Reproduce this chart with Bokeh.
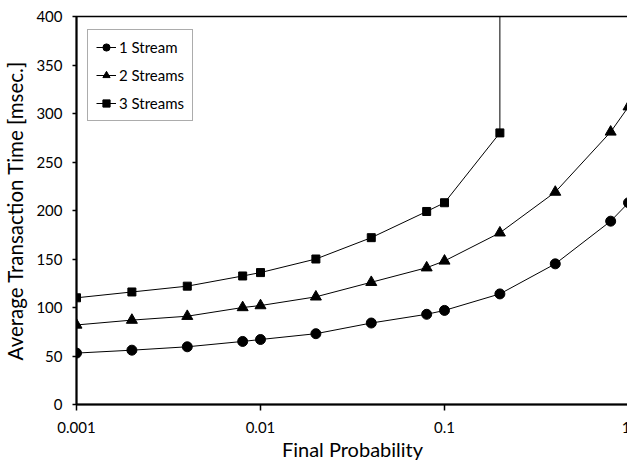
from bokeh.plotting import figure
from bokeh.models import Range1d, FixedTicker, CustomJSTickFormatter, Legend, LegendItem
from bokeh.embed import file_html
from bokeh.resources import INLINE

# Data
prob = [0.001, 0.002, 0.004, 0.008, 0.01, 0.02, 0.04, 0.08, 0.1, 0.2, 0.4, 0.8, 1.0]
stream1 = [53, 56, 59.5, 65, 67, 73, 84, 93, 97, 114, 145, 189, 208]
stream2 = [82, 87, 91, 100, 102, 111, 126, 141, 148, 177, 219, 281, 307]
prob3 = [0.001, 0.002, 0.004, 0.008, 0.01, 0.02, 0.04, 0.08, 0.1, 0.2]
stream3 = [110, 116, 122, 132.5, 136, 150, 172, 199, 208, 280]
# 3 streams diverges beyond 0.2 (line leaves the top of the chart)
prob3_div = [0.2, 0.2]
stream3_div = [280, 2000]

x_ticks = [0.001, 0.01, 0.1, 1]
y_ticks = [0, 50, 100, 150, 200, 250, 300, 350, 400]

FONT = "Lato"

p = figure(x_axis_type="log", output_backend="svg", toolbar_location=None,
           frame_width=552, frame_height=388,
           min_border_left=65, min_border_right=2, min_border_top=16, min_border_bottom=10,
           x_range=Range1d(0.001, 1), y_range=Range1d(0, 400))

p.xgrid.visible = False
p.ygrid.visible = False
p.outline_line_color = "black"
p.outline_line_width = 1.5
p.background_fill_color = "white"
p.border_fill_color = "white"

r1l = p.line(prob, stream1, line_color="black", line_width=1)
r1m = p.scatter(prob, stream1, marker="circle", size=10, fill_color="black", line_color="black")
r2l = p.line(prob, stream2, line_color="black", line_width=1)
r2m = p.scatter(prob, stream2, marker="triangle", size=11, fill_color="black", line_color="black")
r3l = p.line(prob3, stream3, line_color="black", line_width=1)
r3d = p.line(prob3_div, stream3_div, line_color="black", line_width=1)
r3m = p.scatter(prob3, stream3, marker="square", size=8, fill_color="black", line_color="black")

legend = Legend(items=[
    LegendItem(label="1 Stream", renderers=[r1l, r1m]),
    LegendItem(label="2 Streams", renderers=[r2l, r2m]),
    LegendItem(label="3 Streams", renderers=[r3l, r3m]),
], location=(11, 283))
legend.border_line_color = "#5a5a5a"
legend.border_line_width = 1
legend.padding = 8
legend.spacing = 10
legend.glyph_height = 18
legend.label_height = 18
legend.glyph_width = 20
legend.label_standoff = 3
legend.label_text_font = FONT
legend.label_text_font_size = "15px"
legend.label_text_color = "black"
legend.margin = 0
p.add_layout(legend, "center")

xa = p.xaxis[0]
xa.ticker = FixedTicker(ticks=x_ticks, minor_ticks=[])
xa.formatter = CustomJSTickFormatter(code="return tick.toString();")
xa.axis_label = "Final Probability"
xa.axis_label_text_font = FONT
xa.axis_label_text_font_size = "20px"
xa.axis_label_text_font_style = "normal"
xa.axis_label_text_color = "black"
xa.axis_label_standoff = 1
xa.major_label_text_font = FONT
xa.major_label_text_font_size = "15px"
xa.major_label_text_color = "black"
xa.major_label_standoff = 11
xa.axis_line_width = 2
xa.axis_line_color = "black"
xa.major_tick_out = 6
xa.major_tick_in = 0
xa.major_tick_line_width = 1.5
xa.minor_tick_line_color = None

ya = p.yaxis[0]
ya.ticker = FixedTicker(ticks=y_ticks, minor_ticks=[])
ya.axis_label = "Average Transaction Time [msec.]"
ya.axis_label_text_font = FONT
ya.axis_label_text_font_size = "20.5px"
ya.axis_label_text_font_style = "normal"
ya.axis_label_text_color = "black"
ya.axis_label_standoff = 6
ya.major_label_text_font = FONT
ya.major_label_text_font_size = "15px"
ya.major_label_text_color = "black"
ya.major_label_standoff = 10
ya.axis_line_width = 2
ya.axis_line_color = "black"
ya.major_tick_out = 4
ya.major_tick_in = 0
ya.major_tick_line_width = 1.5
ya.minor_tick_line_color = None

open("out.html", "w").write(file_html(p, INLINE))
